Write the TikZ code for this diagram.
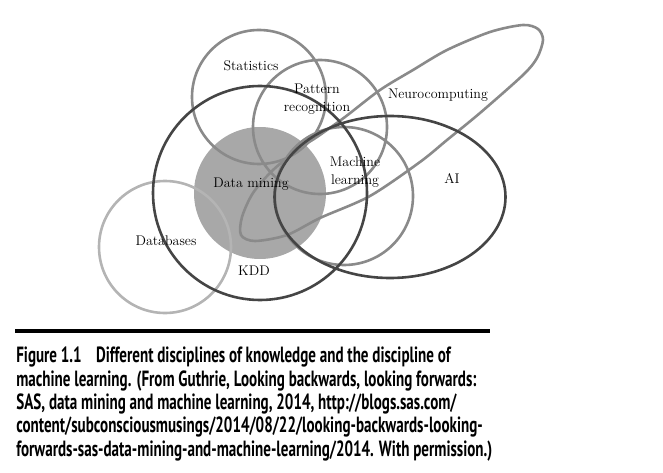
\documentclass[tikz,border=0pt]{standalone}
\usepackage{fontspec}
\newfontfamily\capfont[FakeStretch=0.685]{PT Sans}
\definecolor{lightline}{HTML}{B4B4B4}
\definecolor{midline}{HTML}{8A8A8A}
\definecolor{darkline}{HTML}{454545}
\definecolor{dmfill}{HTML}{A8A8A8}
\tikzset{lbl/.style={font=\fontsize{14}{17.5}\selectfont,align=center,inner sep=0pt}}
\begin{document}
\begin{tikzpicture}[x=1pt,y=-1pt,line width=2.6pt]
	\useasboundingbox (0,0) rectangle (663,473);
	\coordinate (S) at (259,97); \coordinate (P) at (320,127);
	\coordinate (K) at (260,193); \coordinate (D) at (165,247);
	\coordinate (M) at (344,196); \coordinate (A) at (390,197);
	\fill[dmfill] (K) circle[radius=66];
	\draw[lightline] (D) circle[radius=66];
	\draw[midline] (S) circle[radius=67] (P) circle[radius=67] (M) circle[radius=69];
	\draw[midline] plot[smooth cycle] coordinates {(242,217) (253,193) (273,170) (300,148) (317,137)
		(345,117) (380,90) (413,70) (447,50) (490,32) (523,25) (538,29) (543,40) (537,58) (523,75)
		(480,113) (447,140) (420,162) (370,196) (320,218) (287,235) (255,241) (241,235)};
	\draw[darkline] (K) circle[radius=107];
	\draw[darkline] (A) ellipse[x radius=115.5,y radius=81];
	\node[lbl] (stat) at (251,66) {Statistics};
	\node[lbl] (patt) at (317,99) {Pattern\\recognition};
	\node[lbl] (neuro) at (438,95) {Neurocomputing};
	\node[lbl] (ml) at (355,172) {Machine\\learning};
	\node[lbl] (ai) at (452,179) {AI};
	\node[lbl] (dm) at (251,184) {Data mining};
	\node[lbl] (db) at (166,241) {Databases};
	\node[lbl] (kdd) at (254,271) {KDD};
	% caption
	\coordinate (rl) at (15,331); \coordinate (rr) at (490,331);
	\draw[line width=4pt] (rl) -- (rr);
	\node[anchor=north west,inner sep=0pt,align=left,
		font=\capfont\bfseries\fontsize{22}{23.3}\selectfont] (cap) at (15,346)
		{Figure 1.1\hspace{0.65em}Different disciplines of knowledge and the discipline of\\
		machine learning. (From Guthrie, Looking backwards, looking forwards:\\
		SAS, data mining and machine learning, 2014, http://blogs.sas.com/\\
		content/subconsciousmusings/2014/08/22/looking-backwards-looking-\\
		forwards-sas-data-mining-and-machine-learning/2014. With permission.)};
\end{tikzpicture}
\end{document}
